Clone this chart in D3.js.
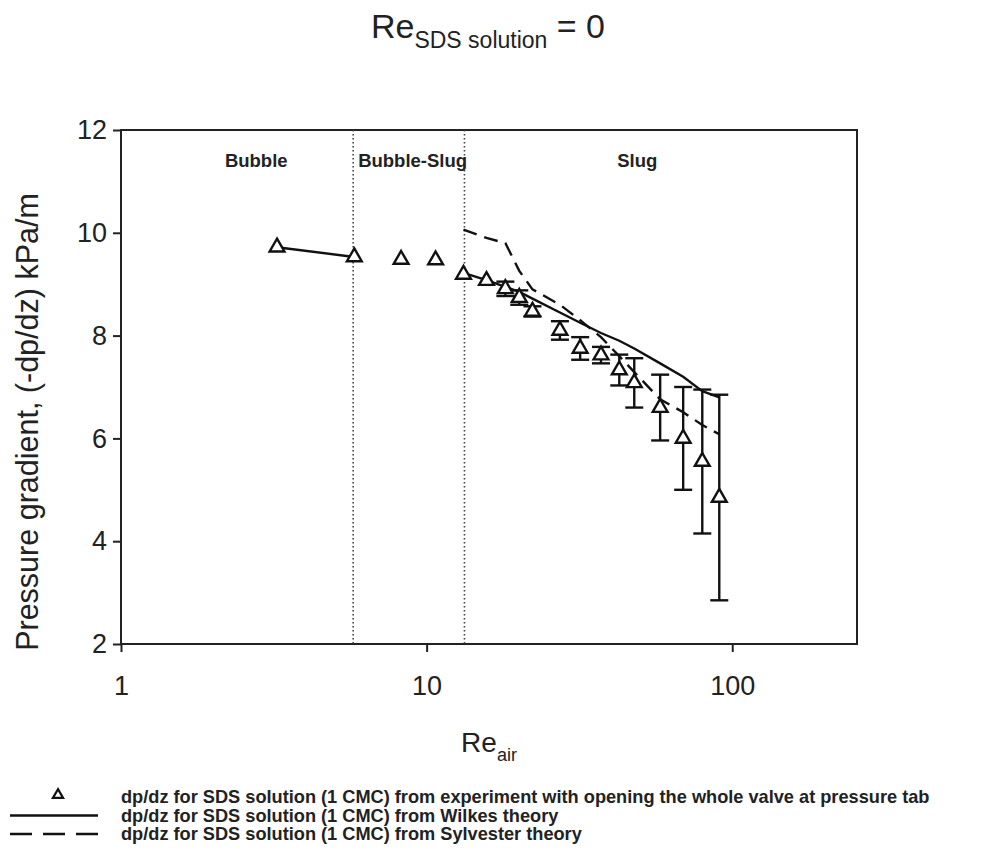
<!DOCTYPE html>
<html>
<head>
<meta charset="utf-8">
<title>Pressure gradient vs Re air</title>
<style>
    body { margin: 0; background: #fff; }
    text { font-family: "Liberation Sans", Arial, sans-serif; fill: #222; }
</style>
</head>
<body>
<script src="https://d3js.org/d3.v7.min.js"></script>
<script>
// Re air for each measurement
var reAir = [3.24, 5.8, 8.25, 10.7, 13.2, 15.7, 18.1, 20.1, 22.2, 27.3, 31.8, 37.2, 42.7, 47.8, 58.1, 69.1, 79.8, 90.7];
// experiment (triangles) and its error
var dpExp = [9.72, 9.53, 9.48, 9.47, 9.19, 9.07, 8.91, 8.74, 8.47, 8.1, 7.75, 7.62, 7.33, 7.08, 6.6, 6.0, 5.55, 4.85];
var dpErr = [0, 0, 0, 0, 0, 0, 0.14, 0.14, 0.1, 0.18, 0.22, 0.16, 0.3, 0.48, 0.64, 1.0, 1.4, 2.0];
// theory lines (null = not drawn)
var dpWilkes = [9.72, 9.53, null, null, 9.22, 9.08, 8.95, 8.85, 8.72, 8.45, 8.25, 8.05, 7.9, 7.75, 7.46, 7.2, 6.92, 6.8];
var dpSylvester = [null, null, null, null, 10.06, 9.9, 9.8, 9.26, 8.9, 8.6, 8.3, 7.97, 7.6, 7.29, 6.76, 6.51, 6.26, 6.08];
// flow regime boundaries
var regimeBounds = [5.75, 13.3];
var regimeNames = ["Bubble", "Bubble-Slug", "Slug"];
var regimeAt = [2.77, 9.0, 48.9];
var xTicks = [1, 10, 100];
var yTicks = [2, 4, 6, 8, 10, 12];
var legendLabels = [
    "dp/dz for SDS solution (1 CMC) from experiment with opening the whole valve at pressure tab",
    "dp/dz for SDS solution (1 CMC) from Wilkes theory",
    "dp/dz for SDS solution (1 CMC) from Sylvester theory"
];

var width = 989, height = 865;
var margin = {left: 121, top: 130, right: 132, bottom: 221};

var svg = d3.select("body").append("svg")
    .attr("width", width)
    .attr("height", height);

var xScale = d3.scaleLog()
    .domain([1, 256])
    .range([margin.left, width - margin.right]);
var yScale = d3.scaleLinear()
    .domain([2, 12])
    .range([height - margin.bottom, margin.top]);

var rows = reAir.map(function(d, i) {
    return {x: d, y: dpExp[i], e: dpErr[i], w: dpWilkes[i], s: dpSylvester[i]};
});

// title
var title = svg.append("text")
    .attr("x", 488).attr("y", 38)
    .attr("text-anchor", "middle")
    .style("font-size", "34px");
title.append("tspan").text("Re");
title.append("tspan").attr("dy", 10).style("font-size", "23px").text("SDS solution");
title.append("tspan").attr("dy", -10).text(" = 0");

// axes
var xAxis = d3.axisBottom(xScale)
    .tickValues(xTicks)
    .tickFormat(d3.format("d"))
    .tickSize(8)
    .tickPadding(24);
var yAxis = d3.axisLeft(yScale)
    .tickValues(yTicks)
    .tickSize(8)
    .tickPadding(6);

var gx = svg.append("g")
    .attr("transform", "translate(0," + (height - margin.bottom) + ")")
    .call(xAxis);
var gy = svg.append("g")
    .attr("transform", "translate(" + margin.left + ",0)")
    .call(yAxis);
[gx, gy].forEach(function(g) {
    g.select(".domain").remove();
    g.selectAll("line").attr("stroke", "#222").attr("stroke-width", 2);
    g.selectAll("text").style("font-size", "27px").attr("fill", "#222");
});

// frame
svg.append("rect")
    .attr("x", margin.left).attr("y", margin.top)
    .attr("width", width - margin.left - margin.right)
    .attr("height", height - margin.top - margin.bottom)
    .attr("fill", "none")
    .attr("stroke", "#222")
    .attr("stroke-width", 2);

// regime boundaries
svg.selectAll(".bound")
    .data(regimeBounds)
    .enter().append("line")
    .attr("x1", xScale).attr("x2", xScale)
    .attr("y1", margin.top).attr("y2", height - margin.bottom)
    .attr("stroke", "#444")
    .attr("stroke-width", 1.6)
    .attr("stroke-dasharray", "1.5,2.5");

svg.selectAll(".regime")
    .data(regimeNames)
    .enter().append("text")
    .attr("x", function(d, i) { return xScale(regimeAt[i]); })
    .attr("y", 167)
    .attr("text-anchor", "middle")
    .style("font-size", "18.5px")
    .style("font-weight", "bold")
    .text(function(d) { return d; });

// theory lines
var wilkesLine = d3.line()
    .defined(function(d) { return d.w != null; })
    .x(function(d) { return xScale(d.x); })
    .y(function(d) { return yScale(d.w); });
var sylvLine = d3.line()
    .defined(function(d) { return d.s != null; })
    .x(function(d) { return xScale(d.x); })
    .y(function(d) { return yScale(d.s); });

svg.append("path")
    .attr("d", wilkesLine(rows))
    .attr("fill", "none")
    .attr("stroke", "#111")
    .attr("stroke-width", 2.4);
svg.append("path")
    .attr("d", sylvLine(rows))
    .attr("fill", "none")
    .attr("stroke", "#111")
    .attr("stroke-width", 2.4)
    .attr("stroke-dasharray", "14,8");

// error bars
var eb = svg.append("g").selectAll("g")
    .data(rows.filter(function(d) { return d.e > 0; }))
    .enter().append("g")
    .attr("stroke", "#111")
    .attr("stroke-width", 2.4);
eb.append("line")
    .attr("x1", function(d) { return xScale(d.x); })
    .attr("x2", function(d) { return xScale(d.x); })
    .attr("y1", function(d) { return yScale(d.y + d.e); })
    .attr("y2", function(d) { return yScale(d.y - d.e); });
[1, -1].forEach(function(s) {
    eb.append("line")
        .attr("x1", function(d) { return xScale(d.x) - 9; })
        .attr("x2", function(d) { return xScale(d.x) + 9; })
        .attr("y1", function(d) { return yScale(d.y + s * d.e); })
        .attr("y2", function(d) { return yScale(d.y + s * d.e); });
});

// triangles
var tri = d3.symbol().type(d3.symbolTriangle).size(95);
svg.append("g").selectAll("path")
    .data(rows)
    .enter().append("path")
    .attr("d", tri)
    .attr("transform", function(d) {
        return "translate(" + xScale(d.x) + "," + yScale(d.y) + ")";
    })
    .attr("fill", "#fff")
    .attr("stroke", "#111")
    .attr("stroke-width", 2.4);

// axis titles
var xt = svg.append("text")
    .attr("x", 489).attr("y", 752)
    .attr("text-anchor", "middle")
    .style("font-size", "28px");
xt.append("tspan").text("Re");
xt.append("tspan").attr("dy", 9).style("font-size", "18px").text("air");

svg.append("text")
    .attr("transform", "translate(38,422) rotate(-90)")
    .attr("text-anchor", "middle")
    .style("font-size", "30.5px")
    .text("Pressure gradient, (-dp/dz) kPa/m");

// legend
var legend = svg.append("g")
    .selectAll("g")
    .data(legendLabels)
    .enter().append("g")
    .attr("transform", function(d, i) { return "translate(0," + (797 + i * 18.5) + ")"; });

legend.append("text")
    .attr("x", 121)
    .attr("dy", "0.35em")
    .style("font-size", "18.2px")
    .style("font-weight", "bold")
    .text(function(d) { return d; });

legend.filter(function(d, i) { return i === 0; })
    .append("path")
    .attr("d", d3.symbol().type(d3.symbolTriangle).size(45))
    .attr("transform", "translate(58,-2)")
    .attr("fill", "#fff")
    .attr("stroke", "#111")
    .attr("stroke-width", 2.2);
legend.filter(function(d, i) { return i > 0; })
    .append("line")
    .attr("x1", 10).attr("x2", 98)
    .attr("stroke", "#111")
    .attr("stroke-width", 2.5)
    .attr("stroke-dasharray", function(d, i) { return i === 1 ? "22,11" : null; });
</script>
</body>
</html>
